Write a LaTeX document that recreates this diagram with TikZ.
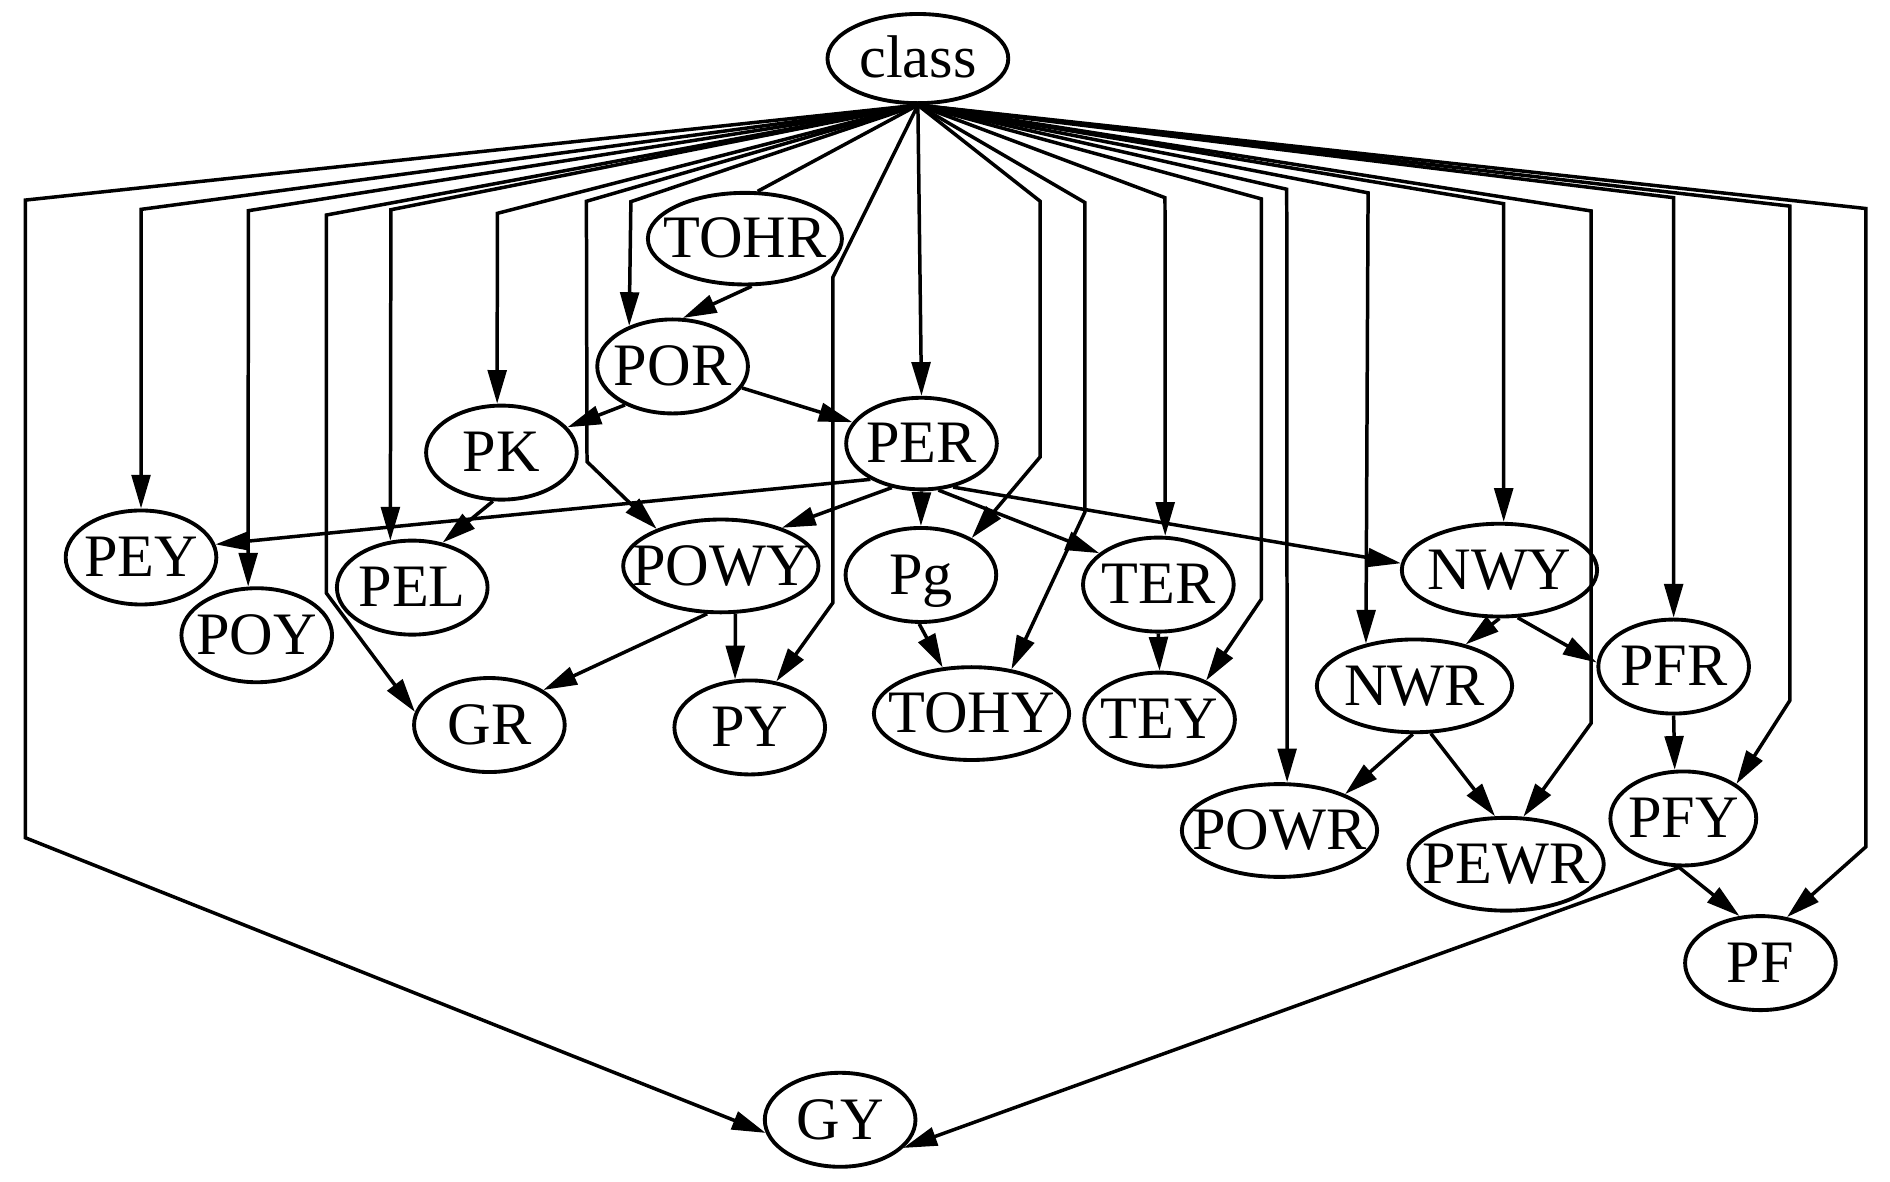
\documentclass[tikz,border=0pt]{standalone}
\usepackage{fontspec}
\setmainfont{Liberation Serif}
\usetikzlibrary{arrows.meta,shapes.geometric}
\tikzset{
  gnode/.style={draw, ellipse, line width=3.2pt, inner sep=0pt,
    text height=32pt, text depth=0pt,
    minimum width=125pt, minimum height=78pt,
    font=\fontsize{50}{60}\selectfont},
  widenode/.style={minimum width=162pt, minimum height=77pt},
  edge/.style={line width=2.9pt, -{Triangle[length=28pt,width=15.5pt]}},
  plainedge/.style={line width=2.9pt},
}
\begin{document}
\begin{tikzpicture}[x=1pt,y=-1pt]
\useasboundingbox (0,0) rectangle (1568,980);
% nodes
\node[gnode, minimum width=150pt, minimum height=74pt] (class) at (761.5,48.6) {\makebox[0pt]{class}};
\node[gnode, minimum width=161pt, minimum height=76pt] (TOHR) at (618,198) {\makebox[0pt]{TOHR}};
\node[gnode] (POR) at (558,304) {\makebox[0pt]{POR}};
\node[gnode] (PK) at (416,375.5) {\makebox[0pt]{PK}};
\node[gnode, minimum height=76pt] (PER) at (764.5,368) {\makebox[0pt]{PER}};
\node[gnode] (PEY) at (117,462.5) {\makebox[0pt]{PEY}};
\node[gnode] (POY) at (213,527) {\makebox[0pt]{POY}};
\node[gnode] (PEL) at (342,487.5) {\makebox[0pt]{PEL}};
\node[gnode, widenode] (POWY) at (598,469.5) {\makebox[0pt]{POWY}};
\node[gnode] (Pg) at (764,477) {\makebox[0pt]{Pg}};
\node[gnode] (TER) at (961,485) {\makebox[0pt]{TER}};
\node[gnode, widenode] (NWY) at (1244,473) {\makebox[0pt]{NWY}};
\node[gnode] (GR) at (406,601.5) {\makebox[0pt]{GR}};
\node[gnode] (PY) at (622,603.5) {\makebox[0pt]{PY}};
\node[gnode, widenode] (TOHY) at (806,592) {\makebox[0pt]{TOHY}};
\node[gnode] (TEY) at (962,597) {\makebox[0pt]{TEY}};
\node[gnode, widenode] (NWR) at (1173.5,569) {\makebox[0pt]{NWR}};
\node[gnode] (PFR) at (1388.5,553) {\makebox[0pt]{PFR}};
\node[gnode, widenode] (POWR) at (1061.5,689) {\makebox[0pt]{POWR}};
\node[gnode, widenode] (PEWR) at (1249.5,717) {\makebox[0pt]{PEWR}};
\node[gnode, minimum width=121pt] (PFY) at (1396.5,679) {\makebox[0pt]{PFY}};
\node[gnode] (PF) at (1460.5,799) {\makebox[0pt]{PF}};
\node[gnode] (GY) at (697,929) {\makebox[0pt]{GY}};
% edges from class
\draw[edge] (class.south) -- (21,166) -- (21,695) -- (GY.190);
\draw[edge] (class.south) -- (117,173.7) -- (PEY.north);
\draw[edge] (class.south) -- (206,174.8) -- (POY.100);
\draw[edge] (class.south) -- (270.7,178.4) -- (270.7,492) -- (GR.170);
\draw[edge] (class.south) -- (324.3,174) -- (PEL.115);
\draw[edge] (class.south) -- (412.6,177) -- (PK.95);
\draw[edge] (class.south) -- (486.5,167) -- (487,383) -- (POWY.150);
\draw[edge] (class.south) -- (523.4,167.3) -- (POR.137);
\draw[plainedge] (class.south) -- (TOHR.75);
\draw[edge] (class.south) -- (691,230) -- (691,500) -- (PY.60);
\draw[edge] (class.south) -- (PER.north);
\draw[edge] (class.south) -- (863,167) -- (863,379) -- (Pg.36);
\draw[edge] (class.south) -- (900,168) -- (900,425) -- (TOHY.48);
\draw[edge] (class.south) -- (966.5,164) -- (TER.82);
\draw[edge] (class.south) -- (1046.5,165) -- (1046.5,497) -- (TEY.40);
\draw[edge] (class.south) -- (1067.5,157) -- (POWR.81);
\draw[edge] (class.south) -- (1135,160) -- (NWR.139);
\draw[edge] (class.south) -- (1247.5,169) -- (NWY.85);
\draw[edge] (class.south) -- (1320,175) -- (1320,600) -- (PEWR.70);
\draw[edge] (class.south) -- (1388.5,164) -- (PFR.north);
\draw[edge] (class.south) -- (1485,171) -- (1485,581) -- (PFY.33);
\draw[edge] (class.south) -- (1548,173) -- (1548,702.5) -- (PF.60);
% other edges
\draw[edge] (TOHR.278) -- (POR.78);
\draw[edge] (POR.219) -- (PK.21);
\draw[edge] (POR) -- (PER);
\draw[edge] (PK.260) -- (PEL.56);
\draw[edge] (PER.215) -- (PEY.10);
\draw[edge] (PER.236) -- (POWY.32);
\draw[edge] (PER.south) -- (Pg.north);
\draw[edge] (PER.290) -- (TER.152);
\draw[edge] (PER.306) -- (NWY.176);
\draw[edge] (POWY.254) -- (GR.33);
\draw[edge] (POWY.287) -- (PY.107);
\draw[edge] (Pg.268) -- (TOHY.122);
\draw[edge] (TER.south) -- (TEY.north);
\draw[edge] (NWY.south) -- (NWR.39);
\draw[edge] (NWY.291) -- (PFR.177);
\draw[edge] (NWR.268) -- (POWR.29);
\draw[edge] (NWR.289) -- (PEWR.103);
\draw[edge] (PFR.south) -- (PFY.100);
\draw[edge] (PFY.265) -- (PF.114);
\draw[edge] (PFY.265) -- (GY.336);
\end{tikzpicture}
\end{document}
